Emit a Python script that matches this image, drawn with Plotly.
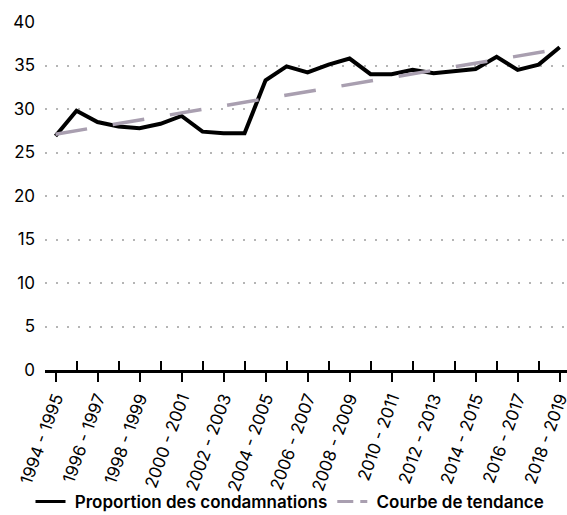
import plotly.graph_objects as go

periods = ["1994 - 1995", "1995 - 1996", "1996 - 1997", "1997 - 1998", "1998 - 1999",
           "1999 - 2000", "2000 - 2001", "2001 - 2002", "2002 - 2003", "2003 - 2004",
           "2004 - 2005", "2005 - 2006", "2006 - 2007", "2007 - 2008", "2008 - 2009",
           "2009 - 2010", "2010 - 2011", "2011 - 2012", "2012 - 2013", "2013 - 2014",
           "2014 - 2015", "2015 - 2016", "2016 - 2017", "2017 - 2018", "2018 - 2019"]
proportion = [26.9, 29.8, 28.5, 28.0, 27.8, 28.3, 29.2, 27.4, 27.2, 27.2,
              33.3, 34.9, 34.2, 35.1, 35.8, 34.0, 34.0, 34.5, 34.1, 34.3,
              34.6, 36.0, 34.5, 35.1, 37.1]
trend_start, trend_end = 27.1, 36.9
y_ticks = [0, 5, 10, 15, 20, 25, 30, 35, 40]
series_names = ["Proportion des condamnations", "Courbe de tendance"]

idx = list(range(len(periods)))
FONT = "Inter"
BLACK = "#000000"
TREND = "#a99fb0"
NB = "\u00a0"

fig = go.Figure()
fig.add_trace(go.Scatter(x=idx, y=proportion, mode="lines", name=series_names[0],
                         line=dict(color=BLACK, width=4), xaxis="x", yaxis="y",
                         cliponaxis=False, showlegend=False))
fig.add_trace(go.Scatter(x=[idx[0], idx[-1]], y=[trend_start, trend_end], mode="lines",
                         name=series_names[1],
                         line=dict(color=TREND, width=3.5, dash="32px,26px"),
                         xaxis="x2", yaxis="y", cliponaxis=False, showlegend=False))
# legend entries
fig.add_trace(go.Scatter(x=[None], y=[None], mode="lines", name=NB + series_names[0],
                         line=dict(color=BLACK, width=3), xaxis="x", yaxis="y"))
fig.add_trace(go.Scatter(x=[None], y=[None], mode="lines", name=NB + series_names[1],
                         line=dict(color=TREND, width=3, dash="16px,7px"),
                         xaxis="x", yaxis="y"))

xrange = [-0.5, 24.35]
fig.update_layout(
    width=567, height=515,
    margin=dict(l=45, r=0, t=22, b=145),
    plot_bgcolor="white", paper_bgcolor="white",
    font=dict(family=FONT, color=BLACK),
    showlegend=True,
    legend=dict(orientation="h", x=290 / 567, xanchor="center", xref="container",
                y=13 / 515, yanchor="middle", yref="container",
                font=dict(family=FONT, size=17, weight=600),
                tracegroupgap=0, bgcolor="rgba(0,0,0,0)"),
    xaxis=dict(range=xrange, tickmode="array", tickvals=idx[::2], ticktext=periods[::2],
               tickangle=-70, ticks="outside", ticklen=9, tickwidth=2, tickcolor=BLACK,
               showline=True, linecolor=BLACK, linewidth=2.5, showgrid=False,
               zeroline=False, automargin=False, ticklabeloverflow="allow",
               tickfont=dict(size=17, family=FONT)),
    xaxis2=dict(range=xrange, overlaying="x", anchor="y", side="bottom",
                tickmode="array", tickvals=idx[1::2], showticklabels=False,
                ticks="inside", ticklen=9, tickwidth=2, tickcolor=BLACK,
                showline=False, showgrid=False, zeroline=False, automargin=False),
    yaxis=dict(range=[0, 40], tickmode="array", tickvals=y_ticks, showgrid=True,
               gridcolor="#b5b5b5", gridwidth=2, griddash="2px,9px",
               zeroline=False, showline=False, ticks="", ticklabelstandoff=9,
               automargin=False, tickfont=dict(size=17, family=FONT)),
)

fig.write_html("out.html", config={"displayModeBar": False},
               post_script="document.body.style.margin='0px';")
